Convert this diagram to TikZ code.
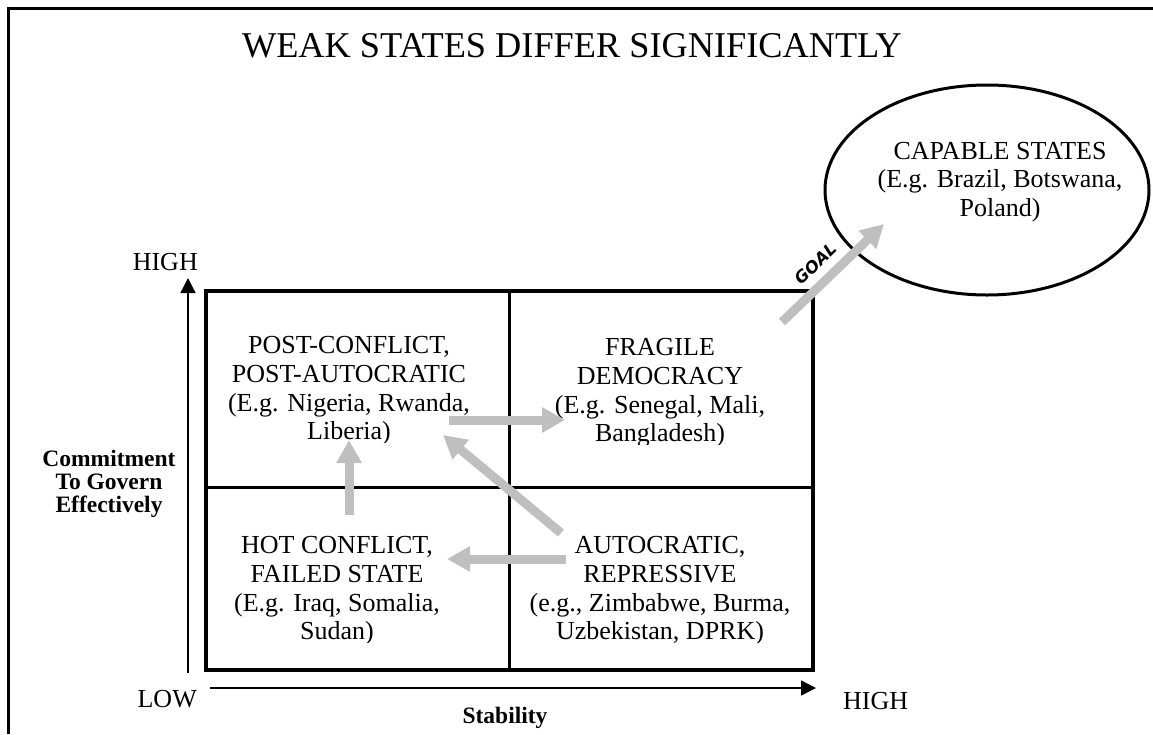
\documentclass[tikz,border=0pt]{standalone}
\usepackage{fontspec}
\setmainfont{Liberation Serif}
\newfontfamily\goalfont{DejaVu Sans}
\usetikzlibrary{arrows.meta,shapes.geometric}
\definecolor{arrowgray}{RGB}{191,191,191}
\tikzset{
  celltext/.style={align=center,inner sep=0pt,font=\fontsize{26}{28.6}\selectfont},
  axislabel/.style={inner sep=0pt,font=\fontsize{26}{30}\selectfont},
  boldlabel/.style={inner sep=0pt,align=center,font=\fontsize{23.5}{23}\selectfont\bfseries},
  grayarrow/.style={draw=arrowgray,line width=9pt,-{Triangle[length=23pt,width=24pt,fill=arrowgray]}},
  axisarrow/.style={draw=black,line width=1.3pt,-{Triangle[length=15pt,width=15pt]}},
  frameline/.style={draw=black,line width=3pt},
  boxline/.style={draw=black,line width=3.6pt},
}
\begin{document}
\begin{tikzpicture}[x=1pt,y=-1pt]
\useasboundingbox (0,0) rectangle (1153,734);
% outer frame (top and left edges visible)
\draw[frameline] (1153,8.5) -- (8.5,8.5) -- (8.5,734);
% title
\node[inner sep=0pt,anchor=base,font=\fontsize{36.3}{40}\selectfont] (title) at (572,57) {WEAK STATES DIFFER SIGNIFICANTLY};
% cells (text boxes clipped at the bottom like the original)
\begin{scope}
\clip (210,295) rectangle (507,442);
\node[celltext] (postc) at (349,391) {POST-CONFLICT,\\POST-AUTOCRATIC\\(E.g. Nigeria, Rwanda,\\Liberia)};
\end{scope}
\begin{scope}
\clip (511,295) rectangle (811,444);
\node[celltext] (fragile) at (660,393) {FRAGILE\\DEMOCRACY\\(E.g. Senegal, Mali,\\Bangladesh)};
\end{scope}
\begin{scope}
\clip (210,490) rectangle (507,642);
\node[celltext] (hot) at (337,591) {HOT CONFLICT,\\FAILED STATE\\(E.g. Iraq, Somalia,\\Sudan)};
\end{scope}
\begin{scope}
\clip (511,490) rectangle (811,642);
\node[celltext] (auto) at (660,591) {AUTOCRATIC,\\REPRESSIVE\\(e.g., Zimbabwe, Burma,\\Uzbekistan, DPRK)};
\end{scope}
% quadrant box
\coordinate (boxNW) at (206,291);
\coordinate (boxSE) at (813,670);
\draw[boxline] (boxNW) rectangle (boxSE);
\coordinate (divT) at (509,291);
\coordinate (divB) at (509,670);
\coordinate (divL) at (206,487);
\coordinate (divR) at (813,487);
\draw[boxline,line width=3pt] (divT) -- (divB);
\draw[boxline,line width=3pt] (divL) -- (divR);
% axes
\coordinate (yaxisS) at (188,673);
\coordinate (yaxisN) at (188,278);
\coordinate (xaxisW) at (210,688);
\coordinate (xaxisE) at (816,688);
\draw[axisarrow] (yaxisS) -- (yaxisN);
\draw[axisarrow] (xaxisW) -- (xaxisE);
\node[axislabel,anchor=base east] (highy) at (198,270) {HIGH};
\node[axislabel,anchor=base east] (low) at (197,707) {LOW};
\node[axislabel,anchor=base west] (highx) at (843,709) {HIGH};
\node[boldlabel,anchor=base] (stab) at (505,723) {Stability};
\node[boldlabel] (commit) at (109,484) {Commitment\\To Govern\\Effectively};
% capable states ellipse
\node[draw=black,line width=3pt,ellipse,minimum width=324pt,minimum height=210pt,inner sep=0pt] (capable) at (987,190) {};
\node[celltext] (captext) at (1000,182) {CAPABLE STATES\\(E.g. Brazil, Botswana,\\Poland)};
% gray arrows
\coordinate (goalS) at (782,322);
\coordinate (goalN) at (884,224);
\draw[grayarrow] (goalS) -- (goalN);
\node[inner sep=0pt,rotate=44,font=\fontsize{16.5}{19}\selectfont\goalfont\bfseries\itshape] (goal) at (816,264) {GOAL};
\coordinate (rA) at (449,420);
\coordinate (rB) at (565,420);
\draw[grayarrow] (rA) -- (rB);
\coordinate (uA) at (349,515);
\coordinate (uB) at (349,440);
\draw[grayarrow] (uA) -- (uB);
\coordinate (dA) at (561,533);
\coordinate (dB) at (443,435);
\draw[grayarrow] (dA) -- (dB);
\coordinate (lA) at (566,559);
\coordinate (lB) at (447,559);
\draw[grayarrow] (lA) -- (lB);
\end{tikzpicture}
\end{document}
